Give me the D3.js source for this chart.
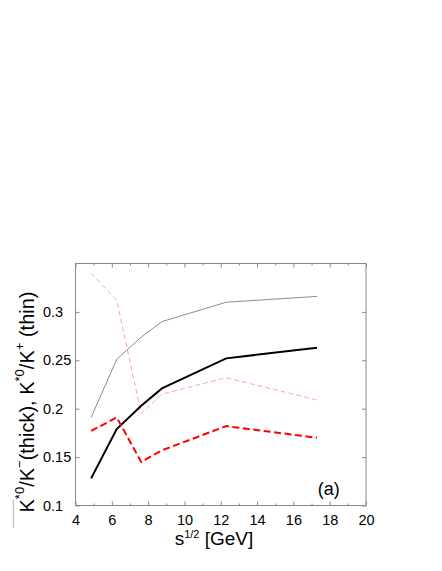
<!DOCTYPE html>
<html>
<head>
<meta charset="utf-8">
<script src="https://cdn.jsdelivr.net/npm/d3@7"></script>
<style>
  body { margin: 0; background: #fff; }
  svg { display: block; font-family: "Liberation Sans", Arial, sans-serif; }
</style>
</head>
<body>
<svg id="mainChart"></svg>
<script>
var WIDTH = 442, HEIGHT = 571;
var MARGIN = {LEFT: 75.5, RIGHT: 76, TOP: 263.5, BOTTOM: 65.5};
var plotW = WIDTH - MARGIN.LEFT - MARGIN.RIGHT,
    plotH = HEIGHT - MARGIN.TOP - MARGIN.BOTTOM;

// collision energies sqrt(s) [GeV]
var energies = [4.86, 6.27, 7.62, 8.76, 12.3, 17.3];
// K*0/K+ (thin, grey)
var kstarKplus = [0.191, 0.251, 0.274, 0.290, 0.310, 0.316];
// anti-K*0/K- (thick, black)
var akstarKminus = [0.128, 0.179, 0.203, 0.221, 0.252, 0.263];
// thin dashed (pink)
var thinDashed = [0.340, 0.312, 0.195, 0.215, 0.232, 0.209];
// thick dashed (red)
var thickDashed = [0.177, 0.191, 0.145, 0.157, 0.182, 0.170];

var xTicks = [4, 6, 8, 10, 12, 14, 16, 18, 20];
var xMinor = [5, 7, 9, 11, 13, 15, 17, 19];
var yTicks = [0.1, 0.15, 0.2, 0.25, 0.3];

var series = [
    {values: kstarKplus, color: '#8c8c8c', width: 1, dash: null},
    {values: thinDashed, color: '#ffa8a8', width: 1, dash: '5,3'},
    {values: akstarKminus, color: '#000', width: 2, dash: null},
    {values: thickDashed, color: '#ff0000', width: 2, dash: '7,3.5'}
];

var xScale = d3.scaleLinear().domain([4, 20]).range([0, plotW]);
var yScale = d3.scaleLinear().domain([0.1, 0.35]).range([plotH, 0]);

var svg = d3.select('#mainChart')
    .attr('width', WIDTH)
    .attr('height', HEIGHT);

var g = svg.append('g')
    .attr('transform', 'translate(' + MARGIN.LEFT + ',' + MARGIN.TOP + ')');

// frame
g.append('rect')
    .attr('width', plotW)
    .attr('height', plotH)
    .style('fill', 'none')
    .style('stroke', '#888')
    .style('stroke-width', 1);

var tickStroke = function (sel) {
    sel.select('.domain').remove();
    sel.selectAll('line').style('stroke', '#888');
    sel.selectAll('text').style('fill', '#000').style('font-size', '14.5px');
};

// bottom axis, inward ticks
g.append('g')
    .attr('transform', 'translate(0,' + plotH + ')')
    .call(d3.axisBottom(xScale).tickValues(xTicks).tickFormat(d3.format('d'))
        .tickSizeInner(-4).tickSizeOuter(0).tickPadding(9))
    .call(tickStroke);
g.append('g')
    .attr('transform', 'translate(0,' + plotH + ')')
    .call(d3.axisBottom(xScale).tickValues(xMinor).tickFormat('')
        .tickSizeInner(-2).tickSizeOuter(0))
    .call(tickStroke);
// top axis
g.append('g')
    .call(d3.axisTop(xScale).tickValues(xTicks).tickFormat('')
        .tickSizeInner(-4).tickSizeOuter(0))
    .call(tickStroke);
g.append('g')
    .call(d3.axisTop(xScale).tickValues(xMinor).tickFormat('')
        .tickSizeInner(-2).tickSizeOuter(0))
    .call(tickStroke);
// left axis, labels left-aligned like the original
g.append('g')
    .call(d3.axisLeft(yScale).tickValues(yTicks).tickFormat(d3.format('~g'))
        .tickSizeInner(-4).tickSizeOuter(0))
    .call(tickStroke)
    .selectAll('text')
    .attr('x', 43 - MARGIN.LEFT)
    .style('text-anchor', 'start');
// right axis
g.append('g')
    .attr('transform', 'translate(' + plotW + ',0)')
    .call(d3.axisRight(yScale).tickValues(yTicks).tickFormat('')
        .tickSizeInner(-4).tickSizeOuter(0))
    .call(tickStroke);

var line = d3.line()
    .x(function (d, i) { return xScale(energies[i]); })
    .y(function (d) { return yScale(d); });

g.selectAll('path.curve')
    .data(series)
    .enter()
    .append('path')
    .attr('class', 'curve')
    .attr('d', function (d) { return line(d.values); })
    .style('fill', 'none')
    .style('stroke', function (d) { return d.color; })
    .style('stroke-width', function (d) { return d.width; })
    .style('stroke-dasharray', function (d) { return d.dash; });

// (a) label
g.append('text')
    .attr('x', xScale(18.56))
    .attr('y', yScale(0.1) - 10.5)
    .style('text-anchor', 'end')
    .style('font-size', '18px')
    .text('(a)');

// x axis title
var xt = svg.append('text')
    .attr('x', 214)
    .attr('y', 545)
    .style('text-anchor', 'middle')
    .style('font-size', '19px');
xt.append('tspan').text('s');
xt.append('tspan').attr('dy', -7).style('font-size', '11px').text('1/2');
xt.append('tspan').attr('dy', 7).text(' [GeV]');

// y axis title
var yt = svg.append('text')
    .attr('transform', 'translate(34,' + 402 + ') rotate(-90)')
    .style('text-anchor', 'middle')
    .style('font-size', '20px');
yt.append('tspan').text('K');
yt.append('tspan').attr('dy', -10).style('font-size', '13px').text('*0');
yt.append('tspan').attr('dy', 10).text('/K');
yt.append('tspan').attr('dy', -10).style('font-size', '13px').text('\u2212');
yt.append('tspan').attr('dy', 10).text('(thick), K');
yt.append('tspan').attr('dy', -10).style('font-size', '13px').text('*0');
yt.append('tspan').attr('dy', 10).text('/K');
yt.append('tspan').attr('dy', -10).style('font-size', '13px').text('+');
yt.append('tspan').attr('dy', 10).text(' (thin)');

// bar over the first K, drawn off to the side as in the original
svg.append('line')
    .attr('x1', 13.5).attr('x2', 13.5)
    .attr('y1', 500).attr('y2', 528)
    .style('stroke', '#c8c8c8')
    .style('stroke-width', 1.5);
</script>
</body>
</html>
